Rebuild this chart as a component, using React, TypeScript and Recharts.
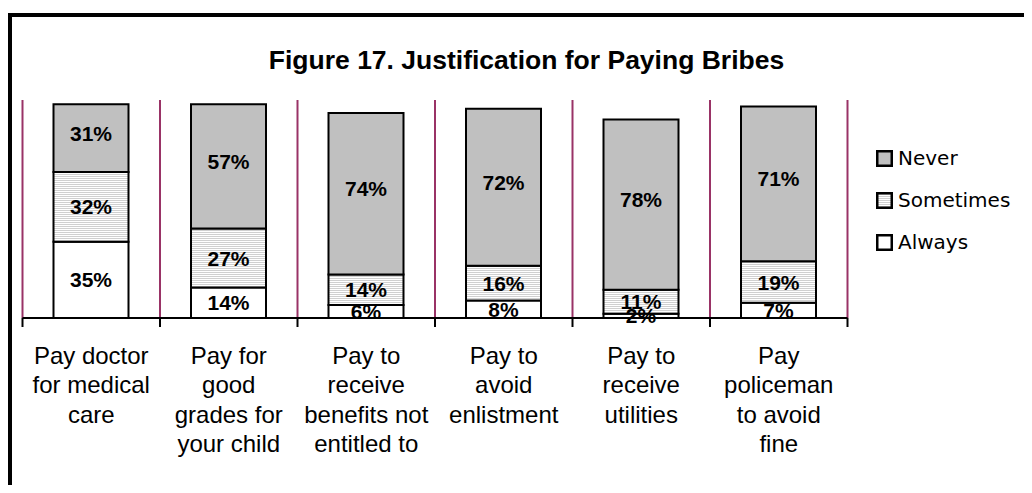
import React from 'react';
import { BarChart, Bar, XAxis, YAxis, CartesianGrid, LabelList, Legend } from 'recharts';

const categories = [
  'Pay doctor for medical care',
  'Pay for good grades for your child',
  'Pay to receive benefits not entitled to',
  'Pay to avoid enlistment',
  'Pay to receive utilities',
  'Pay policeman to avoid fine',
];
const tickLines = [
  ['Pay doctor', 'for medical', 'care'],
  ['Pay for', 'good', 'grades for', 'your child'],
  ['Pay to', 'receive', 'benefits not', 'entitled to'],
  ['Pay to', 'avoid', 'enlistment'],
  ['Pay to', 'receive', 'utilities'],
  ['Pay', 'policeman', 'to avoid', 'fine'],
];
const always = [35, 14, 6, 8, 2, 7];
const sometimes = [32, 27, 14, 16, 11, 19];
const never = [31, 57, 74, 72, 78, 71];
const legendItems = [
  { key: 'never', label: 'Never' },
  { key: 'sometimes', label: 'Sometimes' },
  { key: 'always', label: 'Always' },
];

const data = categories.map((c, i) => ({
  name: c,
  always: always[i],
  sometimes: sometimes[i],
  never: never[i],
}));

const ARIAL = '"Liberation Sans", Arial, sans-serif';
const W = 1024;
const H = 477;
const PLOT_LEFT = 14.5;
const PLOT_RIGHT = 839.5;
const CAT_W = (PLOT_RIGHT - PLOT_LEFT) / categories.length;
const fills: Record<string, string> = {
  never: '#c0c0c0',
  sometimes: 'url(#hstripe)',
  always: '#ffffff',
};

const makeLabel = (dy: number) => (props: any) => {
  const x = Number(props.x);
  const y = Number(props.y);
  const w = Number(props.width);
  const h = Number(props.height);
  const fs = 21;
  return (
    <text
      x={x + w / 2}
      y={y + h / 2 + dy + 0.358 * fs}
      textAnchor="middle"
      fontFamily={ARIAL}
      fontWeight="bold"
      fontSize={fs}
      fill="#000"
    >
      {props.value}%
    </text>
  );
};

const Tick = (props: any) => {
  const { x, y, index } = props;
  const lines = tickLines[index] || [];
  const left = x - CAT_W / 2;
  const right = x + CAT_W / 2;
  return (
    <g>
      <line x1={left} x2={left} y1={y} y2={y + 9} stroke="#000" strokeWidth={2} />
      {index === categories.length - 1 && (
        <line x1={right} x2={right} y1={y} y2={y + 9} stroke="#000" strokeWidth={2} />
      )}
      <text x={x} y={y} textAnchor="middle" fontFamily={ARIAL} fontSize={24} fill="#000">
        {lines.map((l: string, i: number) => (
          <tspan key={i} x={x} y={y + 45.6 + i * 29.5}>
            {l}
          </tspan>
        ))}
      </text>
    </g>
  );
};

const LegendContent = () => (
  <div>
    {legendItems.map((it) => (
      <div
        key={it.key}
        style={{ display: 'flex', alignItems: 'center', height: 42 }}
      >
        <svg width={17} height={17} style={{ display: 'block' }}>
          <rect x={1.25} y={1.25} width={14.5} height={14.5} fill={fills[it.key]} stroke="#000" strokeWidth={2.5} />
        </svg>
        <span
          style={{
            marginLeft: 5,
            fontFamily: '"DejaVu Sans", sans-serif',
            fontSize: 20,
            color: '#000',
            lineHeight: '42px',
          }}
        >
          {it.label}
        </span>
      </div>
    ))}
  </div>
);

export default function App() {
  return (
    <div style={{ position: 'relative', width: W, height: H, overflow: 'hidden' }}>
      <svg width={0} height={0} style={{ position: 'absolute' }}>
        <defs>
          <pattern id="hstripe" x={0} y={0} width={4} height={2} patternUnits="userSpaceOnUse">
            <rect x={0} y={0} width={4} height={2} fill="#ffffff" />
            <rect x={0} y={0} width={4} height={1} fill="#d0d0d0" />
          </pattern>
        </defs>
      </svg>
      <div
        style={{
          position: 'absolute',
          left: 0,
          top: 5,
          width: 2000,
          height: 2000,
          border: '4px solid #000',
          boxSizing: 'border-box',
        }}
      />
      <div
        style={{
          position: 'absolute',
          left: 0,
          top: 37,
          width: 1037,
          textAlign: 'center',
          fontFamily: ARIAL,
          fontWeight: 'bold',
          fontSize: 26.5,
          lineHeight: '30px',
          color: '#000',
        }}
      >
        Figure 17. Justification for Paying Bribes
      </div>
      <div style={{ position: 'absolute', left: 0, top: 0 }}>
        <BarChart
          width={W}
          height={H}
          data={data}
          margin={{ top: 92, left: PLOT_LEFT, right: W - PLOT_RIGHT, bottom: 27 }}
        >
          <CartesianGrid
            horizontal={false}
            vertical={true}
            stroke="#993366"
            strokeWidth={2}
            verticalCoordinatesGenerator={({ offset }: any) =>
              categories.map((_, i) => offset.left + i * (offset.width / categories.length)).concat([
                offset.left + offset.width,
              ])
            }
          />
          <XAxis
            dataKey="name"
            height={140}
            interval={0}
            tickLine={false}
            tickSize={0}
            tickMargin={0}
            axisLine={{ stroke: '#000', strokeWidth: 2 }}
            tick={<Tick />}
          />
          <YAxis hide width={0} domain={[0, 100]} type="number" />
          <Legend
            layout="horizontal"
            verticalAlign="middle"
            align="center"
            content={<LegendContent />}
            wrapperStyle={{ left: 868, top: 129, width: 150 }}
          />
          <Bar dataKey="always" stackId="a" fill={fills.always} stroke="#000" strokeWidth={2} barSize={75} isAnimationActive={false}>
            <LabelList dataKey="always" content={makeLabel(0)} />
          </Bar>
          <Bar dataKey="sometimes" stackId="a" fill={fills.sometimes} stroke="#000" strokeWidth={2} barSize={75} isAnimationActive={false}>
            <LabelList dataKey="sometimes" content={makeLabel(0)} />
          </Bar>
          <Bar dataKey="never" stackId="a" fill={fills.never} stroke="#000" strokeWidth={2} barSize={75} isAnimationActive={false}>
            <LabelList dataKey="never" content={makeLabel(-5)} />
          </Bar>
        </BarChart>
      </div>
    </div>
  );
}
